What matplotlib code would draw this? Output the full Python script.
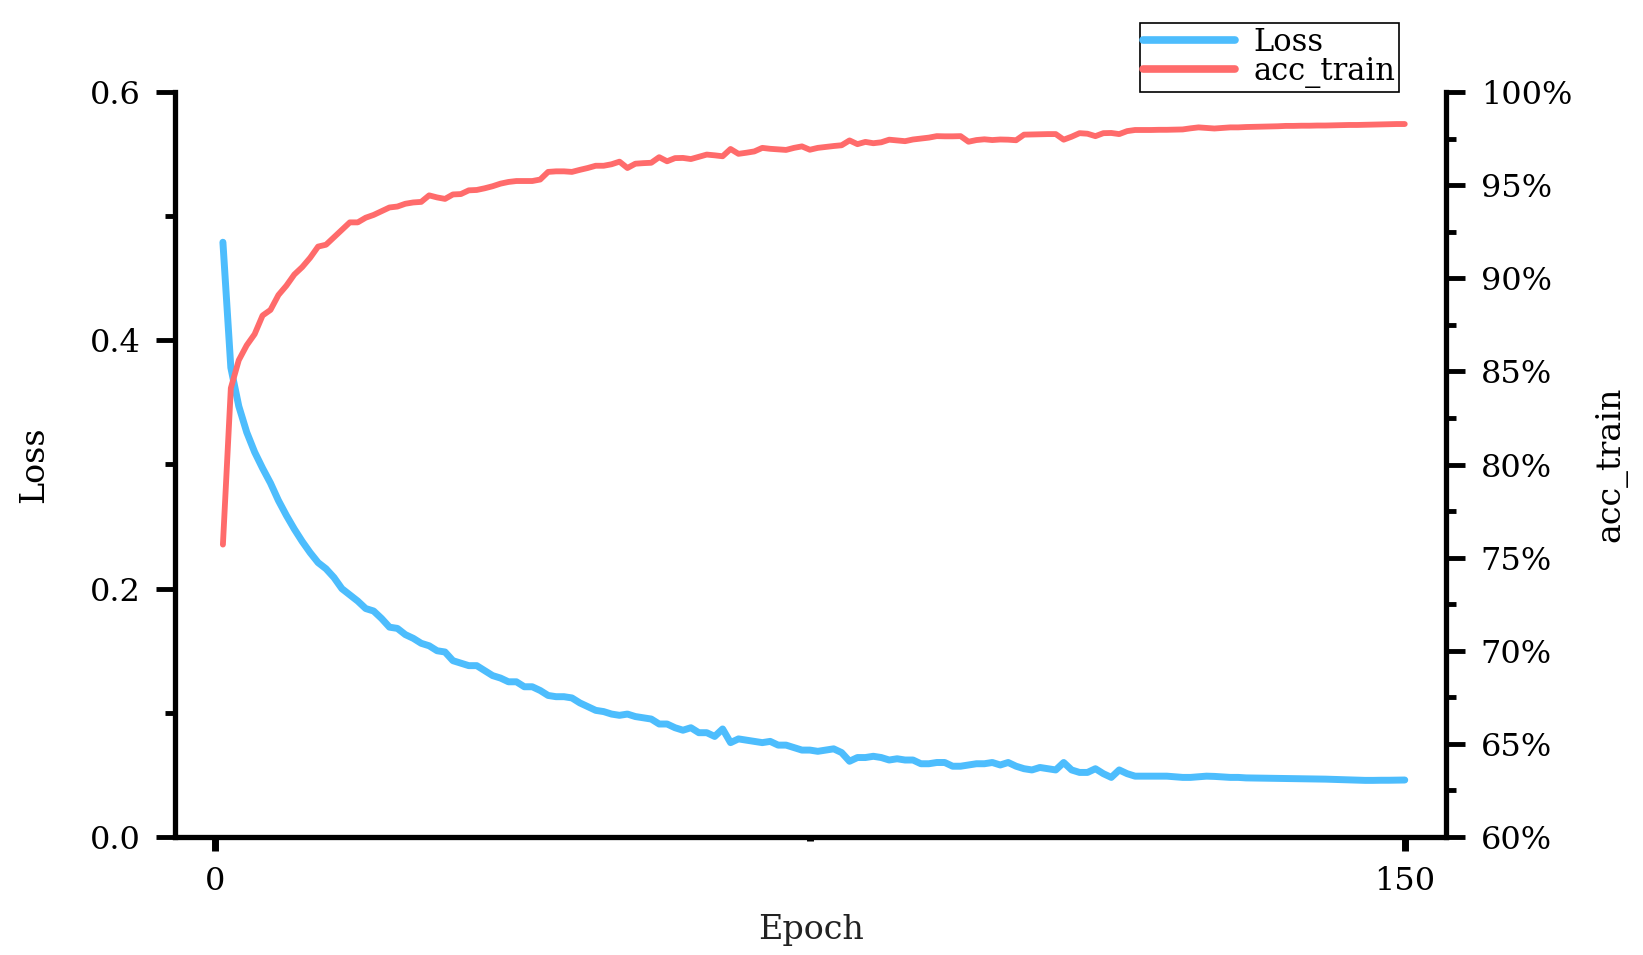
import matplotlib
matplotlib.use("Agg")
import matplotlib.pyplot as plt
from matplotlib.ticker import FixedLocator, MultipleLocator, FuncFormatter

epochs = list(range(1, 151))

loss = [0.479, 0.378, 0.347, 0.326, 0.310, 0.297, 0.285, 0.271, 0.259, 0.248,
        0.238, 0.229, 0.221, 0.216, 0.209, 0.200, 0.195, 0.190, 0.184, 0.182,
        0.176, 0.169, 0.168, 0.163, 0.160, 0.156, 0.154, 0.150, 0.149, 0.142,
        0.140, 0.138, 0.138, 0.134, 0.130, 0.128, 0.125, 0.125, 0.121, 0.121,
        0.118, 0.114, 0.113, 0.113, 0.112, 0.108, 0.105, 0.102, 0.101, 0.099,
        0.098, 0.099, 0.097, 0.096, 0.095, 0.091, 0.091, 0.088, 0.086, 0.088,
        0.084, 0.084, 0.081, 0.087, 0.076, 0.079, 0.078, 0.077, 0.076, 0.077,
        0.074, 0.074, 0.072, 0.070, 0.070, 0.069, 0.070, 0.071, 0.068, 0.061,
        0.064, 0.064, 0.065, 0.064, 0.062, 0.063, 0.062, 0.062, 0.059, 0.059,
        0.060, 0.060, 0.057, 0.057, 0.058, 0.059, 0.059, 0.060, 0.058, 0.060,
        0.057, 0.055, 0.054, 0.056, 0.055, 0.054, 0.060, 0.054, 0.052, 0.052,
        0.055, 0.051, 0.048, 0.054, 0.051, 0.049, 0.049, 0.049, 0.049, 0.049,
        0.0485, 0.048, 0.048, 0.0485, 0.049, 0.0488, 0.0484, 0.048, 0.048, 0.0476,
        0.0475, 0.0474, 0.0473, 0.0472, 0.0471, 0.0470, 0.0469, 0.0468, 0.0467, 0.0466,
        0.0464, 0.0462, 0.0460, 0.0458, 0.0456, 0.0456, 0.0457, 0.0457, 0.0458, 0.0459]

acc_train = [75.7, 84.1, 85.6, 86.4, 87.0, 88.0, 88.3, 89.1, 89.6, 90.2,
             90.6, 91.1, 91.7, 91.8, 92.2, 92.6, 93.0, 93.0, 93.25, 93.4,
             93.6, 93.8, 93.85, 94.0, 94.07, 94.1, 94.45, 94.34, 94.26, 94.5,
             94.52, 94.72, 94.74, 94.83, 94.94, 95.08, 95.17, 95.22, 95.22, 95.22,
             95.3, 95.71, 95.74, 95.74, 95.71, 95.82, 95.92, 96.04, 96.04, 96.12,
             96.26, 95.92, 96.15, 96.18, 96.2, 96.5, 96.28, 96.45, 96.46, 96.4,
             96.52, 96.64, 96.6, 96.55, 96.94, 96.68, 96.74, 96.81, 97.0, 96.95,
             96.92, 96.89, 97.0, 97.08, 96.9, 97.0, 97.05, 97.1, 97.14, 97.4,
             97.2, 97.32, 97.25, 97.3, 97.44, 97.4, 97.36, 97.45, 97.5, 97.55,
             97.63, 97.62, 97.62, 97.63, 97.33, 97.42, 97.46, 97.42, 97.45, 97.44,
             97.41, 97.71, 97.72, 97.73, 97.74, 97.74, 97.44, 97.6, 97.79, 97.76,
             97.63, 97.79, 97.8, 97.74, 97.9, 97.96, 97.96, 97.96, 97.97, 97.97,
             97.98, 97.99, 98.05, 98.1, 98.07, 98.04, 98.07, 98.1, 98.1, 98.12,
             98.13, 98.14, 98.15, 98.16, 98.18, 98.18, 98.19, 98.19, 98.2, 98.2,
             98.21, 98.22, 98.23, 98.23, 98.24, 98.25, 98.26, 98.27, 98.28, 98.28]

x_major_ticks = [0, 150]
x_minor_ticks = [75]

FONT = "DejaVu Serif"
BLUE = "#4DBDFD"
RED = "#FF6B6B"

plt.rcParams["font.family"] = FONT

fig = plt.figure(figsize=(16.43, 9.55), dpi=100)
ax = fig.add_axes([175 / 1643, 1 - 837 / 955, (1446 - 175) / 1643, (837 - 92) / 955])
ax2 = ax.twinx()

l1, = ax.plot(epochs, loss, color=BLUE, lw=5.0, solid_joinstyle="round", solid_capstyle="round", label="Loss")
l2, = ax2.plot(epochs, acc_train, color=RED, lw=4.2, solid_joinstyle="round", solid_capstyle="round", label="acc_train")

ax.set_xlim(-5.04, 155.2)
ax.set_ylim(0, 0.6)
ax2.set_ylim(60, 100)

for a in (ax, ax2):
    a.spines["top"].set_visible(False)
    for s in ("left", "right", "bottom"):
        a.spines[s].set_linewidth(3.8)
ax.spines["right"].set_visible(False)
ax2.spines["left"].set_visible(False)
ax2.spines["bottom"].set_visible(False)

ax.xaxis.set_major_locator(FixedLocator(x_major_ticks))
ax.xaxis.set_minor_locator(FixedLocator(x_minor_ticks))
ax.yaxis.set_major_locator(MultipleLocator(0.2))
ax.yaxis.set_minor_locator(MultipleLocator(0.1))
ax.yaxis.set_major_formatter(FuncFormatter(lambda v, p: f"{v:.1f}"))
ax2.yaxis.set_major_locator(MultipleLocator(5))
ax2.yaxis.set_minor_locator(MultipleLocator(2.5))
ax2.yaxis.set_major_formatter(FuncFormatter(lambda v, p: f"{v:.0f}%"))

ax.tick_params(axis="y", which="major", direction="out", length=14, width=3.5, labelsize=23, pad=11)
ax.tick_params(axis="y", which="minor", direction="out", length=7, width=3.5)
ax.tick_params(axis="x", which="major", direction="out", length=10, width=5, labelsize=23, pad=11)
ax.tick_params(axis="x", which="minor", direction="out", length=3, width=5)
ax2.tick_params(axis="y", which="major", direction="out", length=14, width=3.5, labelsize=23, pad=11)
ax2.tick_params(axis="y", which="minor", direction="out", length=7, width=3.5)

ax.set_xlabel("Epoch", fontsize=24, labelpad=12, color="#222222")
ax.set_ylabel("Loss", fontsize=24, labelpad=28)
ax2.set_ylabel("acc_train", fontsize=24, labelpad=16)

leg = fig.legend(handles=[l1, l2], labels=["Loss", "acc_train"],
                 loc="upper right", bbox_to_anchor=(1399 / 1643, 1 - 23 / 955),
                 fontsize=22, frameon=True, fancybox=False, framealpha=1,
                 edgecolor="black", handlelength=3.0, handletextpad=0.6,
                 labelspacing=-0.05, borderpad=0.12, borderaxespad=0)
leg.get_frame().set_linewidth(1.2)
for h in leg.get_lines():
    h.set_linewidth(5.5)
    h.set_solid_capstyle("round")

fig.savefig("out.png", dpi=100)
